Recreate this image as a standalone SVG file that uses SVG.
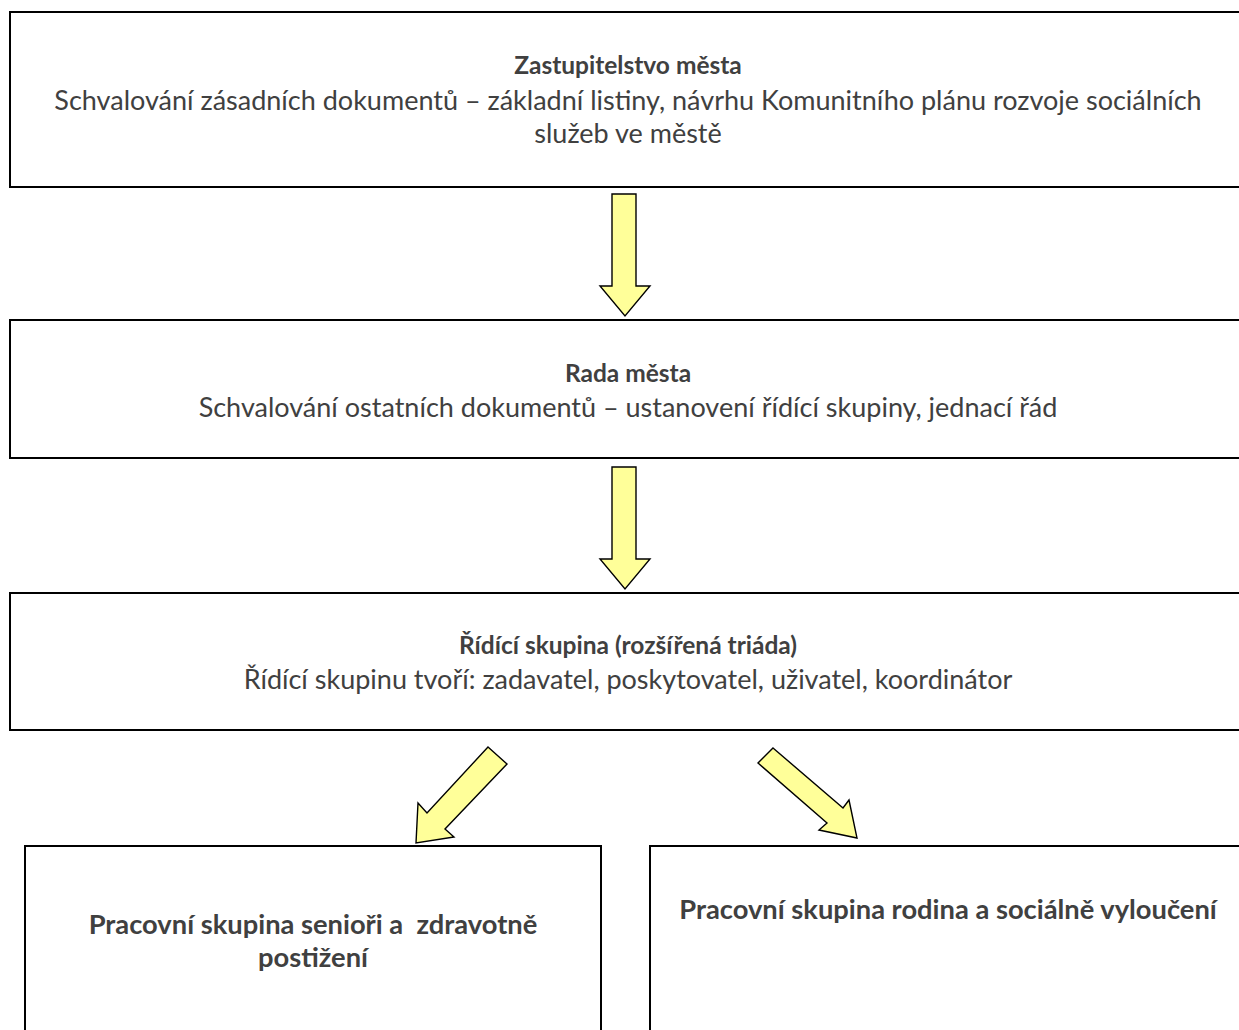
<svg xmlns="http://www.w3.org/2000/svg" width="1239" height="1030" viewBox="0 0 1239 1030">
<style>
.box{fill:#fff;stroke:#000;stroke-width:2}
.arr{fill:#ffff99;stroke:#000;stroke-width:1.4;stroke-linejoin:miter}
text{font-family:Lato,"Open Sans",sans-serif;fill:#404040;text-anchor:middle}
.t{font-weight:bold;font-size:24.5px}
.b{font-size:27px}
.h{font-weight:bold;font-size:27.3px}
</style>
<rect x="0" y="0" width="1239" height="1030" fill="#fff"/>
<g id="zastupitelstvo">
<rect class="box" x="10" y="12" width="1240" height="175"/>
<text class="t" x="628" y="74">Zastupitelstvo města</text>
<text class="b" x="628" y="110">Schvalování zásadních dokumentů – základní listiny, návrhu Komunitního plánu rozvoje sociálních</text>
<text class="b" x="628" y="143">služeb ve městě</text>
</g>
<g id="rada">
<rect class="box" x="10" y="320" width="1240" height="138"/>
<text class="t" x="628" y="382">Rada města</text>
<text class="b" x="628" y="417">Schvalování ostatních dokumentů – ustanovení řídící skupiny, jednací řád</text>
</g>
<g id="ridici">
<rect class="box" x="10" y="593" width="1240" height="137"/>
<text class="t" x="628" y="654">Řídící skupina (rozšířená triáda)</text>
<text class="b" x="628" y="689">Řídící skupinu tvoří: zadavatel, poskytovatel, uživatel, koordinátor</text>
</g>
<g id="seniori">
<rect class="box" x="25" y="846" width="576" height="200"/>
<text class="h" x="313" y="934" xml:space="preserve">Pracovní skupina senioři a  zdravotně</text>
<text class="h" x="313" y="967">postižení</text>
</g>
<g id="rodina">
<rect class="box" x="650" y="846" width="600" height="200"/>
<text class="h" x="948" y="919">Pracovní skupina rodina a sociálně vyloučení</text>
</g>
<g id="connectors">
<polygon class="arr" points="612,194 636,194 636,286 650,286 625,316 600,286 612,286"/>
<polygon class="arr" points="612,467 636,467 636,559 650,559 625,589 600,559 612,559"/>
<polygon class="arr" points="488,747 507,764 445,829 454,837 416,843 418,803 427,813"/>
<polygon class="arr" points="773,748 843,808 849,800 857,838 819,830 827,823 758,763"/>
</g>
</svg>
